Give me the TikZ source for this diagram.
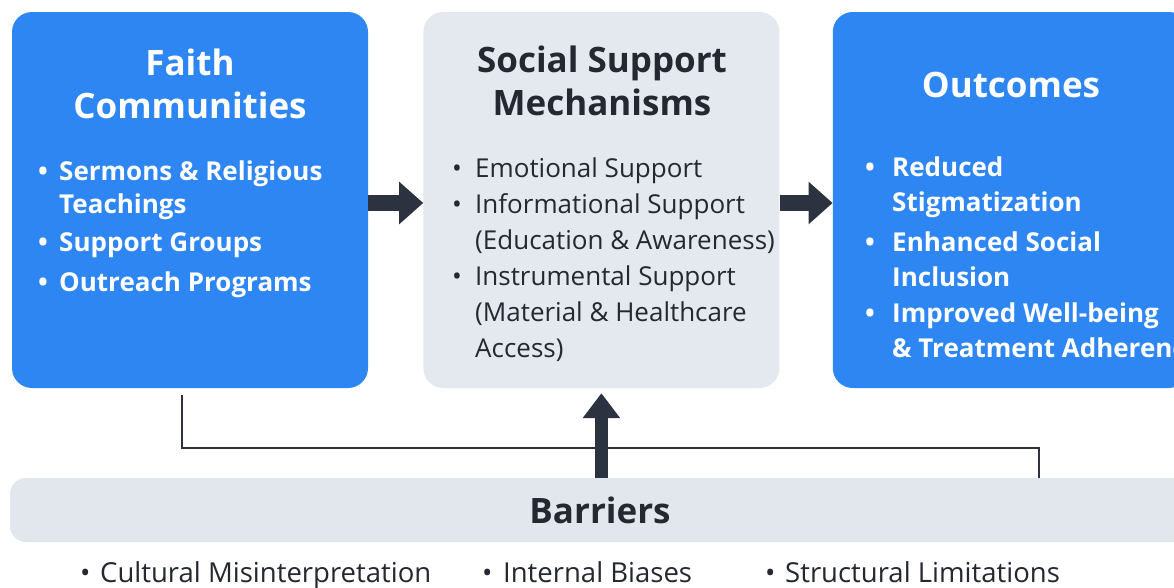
\documentclass[tikz,border=0pt]{standalone}
\usepackage{fontspec}
\setmainfont{Open Sans}
\usetikzlibrary{arrows.meta,positioning}

\definecolor{boxblue}{RGB}{46,134,242}
\definecolor{boxgray}{RGB}{228,232,239}
\definecolor{bargray}{RGB}{226,230,237}
\definecolor{ink}{RGB}{44,50,64}
\definecolor{textdark}{RGB}{36,40,48}

% bullet with a hanging indent of width \hang
\newlength{\hang}
\setlength{\hang}{21pt}
\newcommand{\bul}{\makebox[\hang][l]{\textbullet}}
\newcommand{\ind}{\hspace*{\hang}}

\tikzset{
  block/.style={rounded corners=20pt, minimum width=356pt, minimum height=376pt},
  blue block/.style={block, fill=boxblue},
  gray block/.style={block, fill=boxgray},
  heading/.style={align=center, anchor=base, font=\fontsize{35}{43}\selectfont\bfseries},
  itemlist/.style={align=left, anchor=base west, inner sep=0pt},
  fatarrow/.style={draw=ink, line width=16pt, -{Triangle[length=24pt,width=41pt]}},
  link/.style={draw=ink, line width=2.5pt},
}

\begin{document}
\begin{tikzpicture}[x=1pt,y=-1pt]
\useasboundingbox[fill=white] (0,0) rectangle (1174,587);

% the three blocks
\node[blue block] (faith) at (190,200) {};
\node[gray block, right=55pt of faith] (mech) {};
\node[blue block, right=53pt of mech] (outcome) {};

% headings (placed by the baseline of their last line)
\node[heading, text=white] (faithhead) at (190,118) {Faith\\Communities};
\node[heading, text=textdark] (mechhead) at (602,115) {Social Support\\Mechanisms};
\node[heading, text=white] (outhead) at (1011,97) {Outcomes};

% lists
\node[itemlist, text=white, font=\fontsize{26}{33}\selectfont\bfseries\setlength{\hang}{21pt}] (faithlist) at (38,291)
  {\bul Sermons \& Religious\\ \ind Teachings\\[5pt]
   \bul Support Groups\\[7pt]
   \bul Outreach Programs};
\node[itemlist, text=textdark, font=\fontsize{26}{36}\selectfont\setlength{\hang}{23pt}] (mechlist) at (452,357)
  {\bul Emotional Support\\
   \bul Informational Support\\ \ind (Education \& Awareness)\\
   \bul Instrumental Support\\ \ind (Material \& Healthcare\\ \ind Access)};
\node[itemlist, text=white, font=\fontsize{26}{35}\selectfont\bfseries\setlength{\hang}{27pt}] (outlist) at (865,357)
  {\bul Reduced\\ \ind Stigmatization\\[5pt]
   \bul Enhanced Social\\ \ind Inclusion\\[1pt]
   \bul Improved Well-being\\ \ind \& Treatment Adherence};

% barriers bar and its items
\node[fill=bargray, rounded corners=16pt, minimum width=1180pt, minimum height=64pt,
  text=textdark, font=\fontsize{35}{40}\selectfont\bfseries] (barrier) at (600,510) {Barriers};
\node[itemlist, text=textdark, font=\fontsize{27.5}{30}\selectfont\setlength{\hang}{20pt}] (cultural) at (80,582) {\bul Cultural Misinterpretation};
\node[itemlist, text=textdark, font=\fontsize{27.5}{30}\selectfont\setlength{\hang}{21pt}] (biases) at (482,582) {\bul Internal Biases};
\node[itemlist, text=textdark, font=\fontsize{27.5}{30}\selectfont\setlength{\hang}{20pt}] (structural) at (765,582) {\bul Structural Limitations};

% connectors
\coordinate (bend) at (1039,448);
\draw[link] ([xshift=-8pt,yshift=-7pt]faith.south) |- (bend) -- (bend |- barrier.north);
\draw[fatarrow] ([yshift=-3pt]faith.east) -- ([yshift=-3pt]mech.west);
\draw[fatarrow] ([yshift=-3pt]mech.east) -- ([yshift=-3pt]outcome.west);
\draw[fatarrow, line width=13pt, -{Triangle[length=25pt,width=36pt]}]
  (barrier.north -| mech.south) -- ([yshift=-5pt]mech.south);
\end{tikzpicture}
\end{document}
